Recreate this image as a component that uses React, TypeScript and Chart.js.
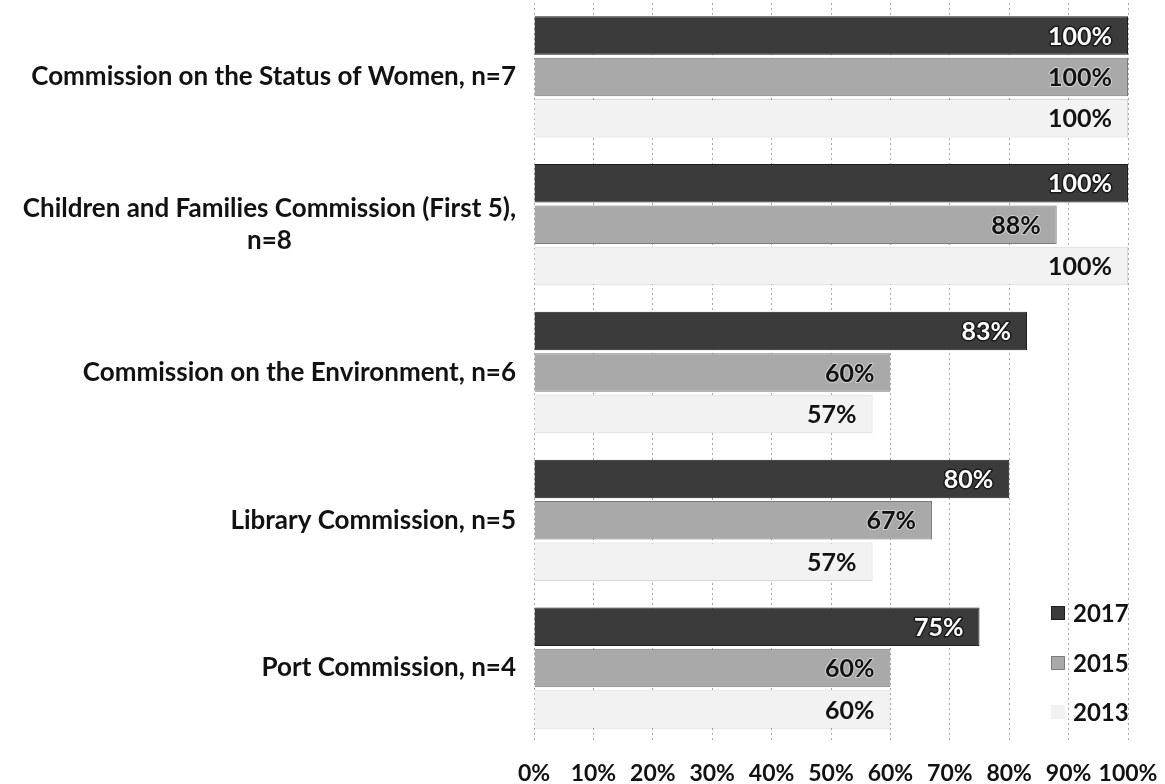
import React, { useEffect, useRef } from "react";
import { Chart, registerables } from "chart.js";

Chart.register(...registerables);

const categories: string[][] = [
  ["Commission on the Status of Women, n=7"],
  ["Children and Families Commission (First 5),", "n=8"],
  ["Commission on the Environment, n=6"],
  ["Library Commission, n=5"],
  ["Port Commission, n=4"],
];
const seriesNames = ["2017", "2015", "2013"];
const values2017 = [100, 100, 83, 80, 75];
const values2015 = [100, 88, 60, 67, 60];
const values2013 = [100, 100, 57, 57, 60];
const xTickValues = [0, 10, 20, 30, 40, 50, 60, 70, 80, 90, 100];

const FONT = "Lato, 'Open Sans', sans-serif";
const CAT_SIZE = 26;
const LABEL_SIZE = 25;
const TICK_SIZE = 23;
const LEGEND_SIZE = 24;
const TEXT = "#121212";

const fills = ["#3b3b3b", "#a9a9a9", "#f2f2f2"];
const borders = ["#1e1e1e", "#7a7a7a", "rgba(0,0,0,0.16)"];

const overlayPlugin = {
  id: "overlay",
  afterDatasetsDraw(chart: any) {
    const { ctx, chartArea } = chart;
    const yScale = chart.scales.y;
    ctx.save();
    ctx.textBaseline = "middle";

    // category labels
    ctx.font = `bold ${CAT_SIZE}px ${FONT}`;
    categories.forEach((lines, i) => {
      const cy = yScale.getPixelForValue(i);
      const right = chartArea.left - 18;
      const maxW = Math.max(...lines.map((l) => ctx.measureText(l).width));
      const lh = 32;
      const startY = cy - ((lines.length - 1) * lh) / 2;
      ctx.fillStyle = TEXT;
      ctx.textAlign = "center";
      lines.forEach((l, j) => {
        ctx.fillText(l, right - maxW / 2, startY + j * lh);
      });
    });

    // data labels
    ctx.font = `bold ${LABEL_SIZE}px ${FONT}`;
    chart.data.datasets.forEach((ds: any, di: number) => {
      const meta = chart.getDatasetMeta(di);
      meta.data.forEach((bar: any, i: number) => {
        const txt = `${ds.data[i]}%`;
        const x = bar.x - 16;
        const y = bar.y + 1;
        ctx.textAlign = "right";
        if (di === 0) {
          ctx.lineWidth = 3;
          ctx.strokeStyle = "#1a1a1a";
          ctx.lineJoin = "round";
          ctx.strokeText(txt, x, y);
          ctx.fillStyle = "#ffffff";
          ctx.fillText(txt, x, y);
        } else if (di === 1) {
          ctx.lineWidth = 2;
          ctx.strokeStyle = "rgba(255,255,255,0.45)";
          ctx.lineJoin = "round";
          ctx.strokeText(txt, x, y);
          ctx.fillStyle = TEXT;
          ctx.fillText(txt, x, y);
        } else {
          ctx.fillStyle = TEXT;
          ctx.fillText(txt, x, y);
        }
      });
    });

    // legend (bottom right, inside plot)
    ctx.font = `bold ${LEGEND_SIZE}px ${FONT}`;
    const rowsY = [chartArea.bottom - 129, chartArea.bottom - 79, chartArea.bottom - 30];
    seriesNames.forEach((name, i) => {
      const tx = chartArea.right - 55;
      const y = rowsY[i];
      const bs = 14;
      ctx.fillStyle = fills[i];
      ctx.fillRect(tx - 22, y - bs / 2, bs, bs);
      if (i < 2) {
        ctx.strokeStyle = borders[i];
        ctx.lineWidth = 1;
        ctx.strokeRect(tx - 22 + 0.5, y - bs / 2 + 0.5, bs - 1, bs - 1);
      }
      ctx.fillStyle = TEXT;
      ctx.textAlign = "left";
      ctx.fillText(name, tx, y + 1);
    });
    ctx.restore();
  },
};

export default function App() {
  const canvasRef = useRef<HTMLCanvasElement | null>(null);

  useEffect(() => {
    if (!canvasRef.current) return;
    const chart = new Chart(canvasRef.current, {
      type: "bar",
      data: {
        labels: categories.map((c) => c.join(" ")),
        datasets: [values2017, values2015, values2013].map((vals, i) => ({
          label: seriesNames[i],
          data: vals,
          backgroundColor: fills[i],
          borderColor: borders[i],
          borderWidth: 1,
          categoryPercentage: 0.84,
          barPercentage: 0.93,
        })),
      },
      options: {
        indexAxis: "y",
        animation: false,
        responsive: true,
        maintainAspectRatio: false,
        layout: { padding: { left: 534, right: 37, top: 3, bottom: -21 } },
        plugins: {
          legend: { display: false },
          tooltip: { enabled: false },
        },
        scales: {
          x: {
            min: 0,
            max: 100,
            afterBuildTicks: (scale: any) => {
              scale.ticks = xTickValues.map((v) => ({ value: v }));
            },
            afterFit: (scale: any) => {
              scale.paddingLeft = 0;
              scale.paddingRight = 0;
            },
            ticks: {
              padding: 20,
              color: TEXT,
              autoSkip: false,
              maxRotation: 0,
              minRotation: 0,
              font: { family: FONT, size: TICK_SIZE, weight: "bold", lineHeight: 1 },
              callback: (v: any) => `${v}%`,
            },
            grid: {
              color: "#a8a8a8",
              lineWidth: 1,
              drawTicks: false,
            },
            border: { display: false, dash: [2, 3] },
          },
          y: {
            display: false,
            grid: { display: false },
          },
        },
      },
      plugins: [overlayPlugin],
    });
    return () => chart.destroy();
  }, []);

  return (
    <div style={{ position: "absolute", left: 0, top: 0, width: 1165, height: 784, background: "#fff" }}>
      <canvas ref={canvasRef} />
    </div>
  );
}
